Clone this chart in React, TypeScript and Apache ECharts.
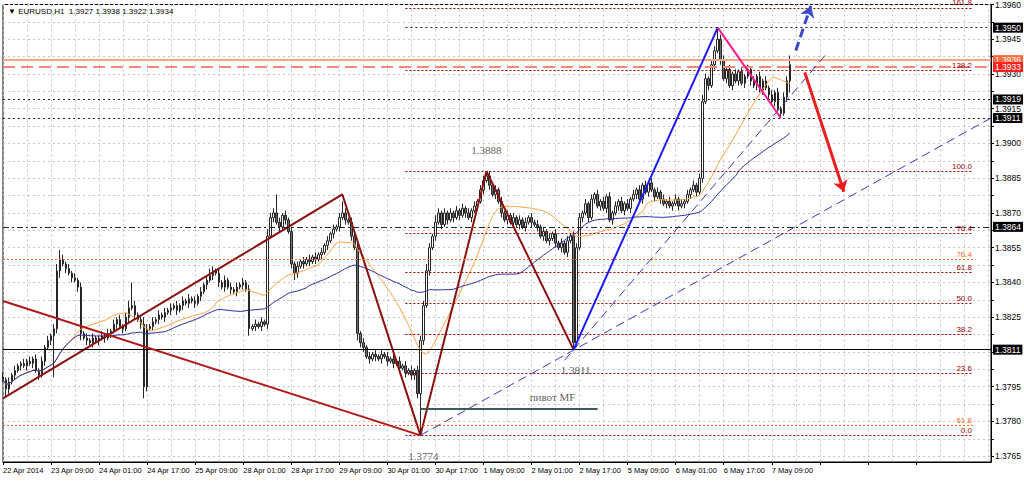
import React, { useEffect, useRef } from 'react';
import * as echarts from 'echarts';

// ---------- data (prices in pips relative to 1.3800) ----------
const BASE = 1.38;
const PIP = 0.0001;
const firstOpen = -1;

const closes = [
  -2, -6, -3, 0, 2, 4, 5, 4, 6, 5,
  7, 2, 0, 6, 12, 15, 17, 20, 45, 50,
  48, 46, 44, 42, 41, 38, 18, 16, 15, 14,
  16, 15, 16, 17, 16, 18, 19, 22, 24, 21,
  20, 25, 29, 30, 26, 24, 22, -5, 20, 21,
  23, 24, 26, 25, 27, 28, 29, 30, 28, 30,
  32, 31, 33, 32, 31, 34, 36, 39, 41, 43,
  45, 44, 40, 38, 41, 38, 37, 36, 38, 39,
  40, 37, 20, 21, 22, 21, 23, 22, 60, 68,
  70, 66, 64, 69, 67, 62, 48, 44, 47, 49,
  48, 50, 49, 51, 50, 52, 53, 56, 58, 61,
  63, 64, 68, 70, 67, 66, 60, 55, 18, 14,
  12, 8, 7, 9, 8, 7, 9, 8, 6, 7,
  5, 6, 3, 4, 1, 2, 0, 2, -8, 15,
  30, 45, 55, 60, 66, 70, 65, 70, 67, 70,
  68, 71, 69, 72, 70, 68, 71, 73, 75, 80,
  84, 86, 82, 78, 80, 75, 70, 67, 69, 66,
  68, 65, 67, 64, 66, 68, 66, 65, 64, 60,
  62, 58, 59, 61, 57, 55, 57, 53, 58, 60,
  14, 55, 68, 70, 74, 68, 76, 78, 73, 75,
  72, 77, 67, 70, 73, 75, 71, 74, 72, 76,
  78, 80, 76, 82, 79, 83, 80, 77, 79, 76,
  74, 75, 73, 74, 76, 73, 74, 75, 78, 80,
  82, 79, 85, 118, 128, 125, 134, 140, 145, 136,
  128, 132, 125, 130, 127, 131, 126, 129, 132, 127,
  125, 129, 123, 127, 124, 121, 118, 122, 115, 113,
  120, 127, 134,
];

const wickUp = [
  2, 1, 2, 1, 2, 1, 1, 2, 1, 2,
  1, 2, 1, 2, 1, 2, 1, 2, 3, 4,
  2, 1, 2, 1, 2, 1, 2, 1, 2, 1,
  2, 1, 1, 2, 1, 2, 1, 2, 1, 2,
  1, 2, 3, 10, 2, 1, 2, 3, 2, 1,
  2, 1, 2, 1, 2, 1, 2, 1, 2, 1,
  2, 1, 2, 1, 2, 1, 2, 1, 2, 3,
  2, 1, 2, 1, 2, 1, 2, 1, 2, 1,
  2, 1, 2, 1, 2, 1, 2, 1, 3, 2,
  2, 8, 2, 1, 2, 1, 2, 1, 2, 1,
  2, 1, 2, 1, 2, 1, 2, 1, 2, 1,
  2, 1, 2, 5, 2, 1, 2, 1, 2, 1,
  2, 1, 2, 1, 2, 1, 2, 1, 2, 1,
  2, 1, 2, 1, 2, 1, 2, 1, 2, 2,
  2, 3, 2, 1, 3, 2, 1, 2, 1, 2,
  1, 2, 1, 2, 1, 2, 1, 2, 1, 2,
  2, 2, 2, 1, 2, 1, 2, 1, 2, 1,
  2, 1, 2, 1, 2, 1, 2, 1, 2, 1,
  2, 1, 2, 1, 2, 1, 2, 1, 2, 1,
  2, 2, 2, 1, 2, 1, 2, 1, 2, 1,
  2, 1, 2, 1, 2, 1, 2, 1, 2, 1,
  2, 1, 2, 1, 2, 1, 2, 1, 2, 1,
  2, 1, 2, 1, 2, 1, 2, 1, 2, 1,
  2, 1, 2, 3, 2, 1, 2, 2, 5, 2,
  2, 1, 2, 1, 2, 1, 2, 1, 2, 1,
  2, 1, 2, 1, 2, 1, 2, 1, 2, 1,
  2, 2, 4,
];

const wickDn = [
  1, 3, 2, 1, 2, 1, 2, 1, 2, 1,
  2, 1, 2, 1, 2, 1, 2, 18, 2, 3,
  1, 2, 1, 2, 1, 2, 3, 1, 2, 1,
  2, 1, 2, 1, 2, 1, 2, 1, 2, 1,
  2, 1, 2, 1, 2, 1, 2, 5, 2, 1,
  2, 1, 2, 1, 2, 1, 2, 1, 2, 1,
  2, 1, 2, 1, 2, 1, 2, 1, 2, 1,
  2, 1, 2, 1, 2, 1, 2, 1, 2, 1,
  2, 1, 3, 1, 2, 1, 2, 1, 2, 1,
  2, 1, 2, 1, 2, 1, 2, 3, 2, 1,
  2, 1, 2, 1, 2, 1, 2, 1, 2, 1,
  2, 1, 2, 1, 2, 1, 2, 1, 3, 2,
  2, 1, 2, 1, 2, 1, 2, 1, 2, 1,
  2, 1, 2, 1, 2, 1, 2, 2, 2, 18,
  2, 1, 2, 1, 2, 1, 2, 1, 2, 1,
  2, 1, 2, 1, 2, 1, 2, 1, 2, 1,
  2, 1, 2, 1, 2, 1, 2, 1, 2, 1,
  2, 1, 2, 1, 2, 1, 2, 1, 2, 1,
  2, 1, 2, 1, 2, 1, 2, 1, 2, 1,
  3, 2, 1, 2, 1, 2, 1, 2, 1, 2,
  1, 2, 1, 2, 1, 2, 1, 2, 1, 2,
  1, 2, 1, 2, 1, 2, 1, 2, 1, 2,
  1, 2, 1, 2, 1, 2, 1, 2, 1, 2,
  1, 2, 1, 2, 1, 2, 1, 2, 1, 2,
  1, 2, 1, 2, 1, 2, 1, 2, 1, 2,
  1, 2, 1, 2, 1, 2, 1, 2, 1, 2,
  1, 2, 5,
];

const TOTAL_SLOTS = 330; // bars + empty right margin
const xTickLabels = [
  '22 Apr 2014', '23 Apr 09:00', '24 Apr 01:00', '24 Apr 17:00', '25 Apr 09:00',
  '28 Apr 01:00', '28 Apr 17:00', '29 Apr 09:00', '30 Apr 01:00', '30 Apr 17:00',
  '1 May 09:00', '2 May 01:00', '2 May 17:00', '5 May 09:00', '6 May 01:00',
  '6 May 17:00', '7 May 09:00',
];
const yLabelValues = [
  1.3765, 1.378, 1.3795, 1.3825, 1.384, 1.3855, 1.387, 1.3885,
  1.39, 1.3915, 1.393, 1.3945, 1.396,
];
const yGridValues = [
  1.3765, 1.37725, 1.378, 1.37875, 1.3795, 1.38025, 1.381, 1.38175, 1.3825,
  1.38325, 1.384, 1.38475, 1.3855, 1.38625, 1.387, 1.38775, 1.3885, 1.38925,
  1.39, 1.39075, 1.3915, 1.39225, 1.393, 1.39375, 1.3945, 1.39525, 1.396,
];

const header = '\u25BC EURUSD,H1  1.3927 1.3938 1.3922 1.3934';

// Fibonacci (dark red) from 1.3774 to 1.3888
const fibLevels = [0, 23.6, 38.2, 50, 61.8, 76.4, 100, 138.2, 161.8];
const fibLow = 1.3774;
const fibHigh = 1.3888;
const fibFrom = 134;
const fibTo = 323;
// second (orange) fibonacci levels
const orangeFibLabels = ['76.4', '61.8'];
const orangeFibPrices = [1.385, 1.37784];

// horizontal levels with axis boxes
const boxLevels = [1.395, 1.3919, 1.3911, 1.3864, 1.3811];
const boxLevelFrom = [134, 0, 0, 0, 0];
const boxLevelKinds = ['dot', 'dot', 'dot', 'dashdot', 'solid'];
const bidLevel = 1.3933;
const askLevel = 1.3936;

// drawn objects [barIndex, price]
const zigzag = [[0, 1.379], [113, 1.3878], [139, 1.3774], [161, 1.3888], [190, 1.3811]];
const blueLeg = [[190, 1.3811], [238, 1.395]];
const pinkLeg = [[238, 1.395], [259, 1.3911]];
const fallingLine = [[0, 1.3832], [139, 1.3774]];
const redTrend = [[77, 1.3759], [329, 1.382]];
const blueDashA = [[139, 1.3774], [329, 1.3911]];
const blueDashB = [[187, 1.38064], [274, 1.39384]];
const pivotLine = [[139, 1.37857], [198, 1.37857]];
const blueArrow = [[264, 1.39401], [269, 1.39594]];
const redArrow = [[267, 1.39307], [280, 1.38792]];

const notes = [
  { text: '1.3888', at: [161, 1.3888], offset: [0, -21] },
  { text: '1.3811', at: [190, 1.3811], offset: [2, 20] },
  { text: '1.3774', at: [139, 1.3774], offset: [3, 21] },
  { text: '\u043F\u0438\u0432\u043E\u0442 MF', at: [183, 1.37857], offset: [0, -11] },
];

const FAST = 24;
const SLOW = 55;

// ---------- helpers ----------
const px = (p: number) => +(BASE + p * PIP).toFixed(5);

function buildCandles() {
  const out: number[][] = [];
  let prev = firstOpen;
  for (let i = 0; i < closes.length; i++) {
    const o = prev;
    const c = closes[i];
    const h = Math.max(o, c) + wickUp[i];
    const l = Math.min(o, c) - wickDn[i];
    out.push([px(o), px(c), px(l), px(h)]);
    prev = c;
  }
  return out;
}

function sma(period: number) {
  const out: number[] = [];
  for (let i = 0; i < closes.length; i++) {
    const s = Math.max(0, i - period + 1);
    let sum = 0;
    for (let j = s; j <= i; j++) sum += closes[j];
    out.push(px(sum / (i - s + 1)));
  }
  return out;
}

const FONT = "'Liberation Sans', 'DejaVu Sans', sans-serif";

const seg = (pts: number[][], color: string, width: number, type: any = 'solid', symbols: string[] = ['none', 'none']) => ({
  symbol: symbols,
  data: [[
    { coord: pts[0], lineStyle: { color, width, type }, label: { show: false } },
    { coord: pts[1] },
  ]],
});

export default function App() {
  const ref = useRef<HTMLDivElement>(null);
  useEffect(() => {
    if (!ref.current) return;
    const chart = echarts.init(ref.current, undefined, { renderer: 'svg' });
    const candles = buildCandles();
    const cats = Array.from({ length: TOTAL_SLOTS }, (_, i) => String(i));

    const dotted = [2, 2];
    const levelData: any[] = [];
    orangeFibPrices.forEach((p, k) => {
      levelData.push([
        {
          coord: [0, p],
          lineStyle: { color: '#ff6a1a', width: 1, type: dotted },
          label: { show: true, position: 'insideEndTop', formatter: orangeFibLabels[k], color: '#ff6a1a', fontSize: 8, fontFamily: FONT, distance: 1 },
        },
        { coord: [fibTo, p] },
      ]);
    });
    fibLevels.forEach((lv) => {
      const p = +(fibLow + (fibHigh - fibLow) * lv / 100).toFixed(5);
      levelData.push([
        {
          coord: [fibFrom, p],
          lineStyle: { color: '#a00000', width: 1, type: dotted },
          label: { show: true, position: 'insideEndTop', formatter: lv.toFixed(1), color: '#a00000', fontSize: 8, fontFamily: FONT, distance: 1 },
        },
        { coord: [fibTo, p] },
      ]);
    });
    const boxLabel = (p: number, bg: string) => ({
      show: true, position: 'end', distance: 2, formatter: p.toFixed(4),
      color: '#fff', backgroundColor: bg, padding: [1, 2, 0, 2], fontSize: 8.5, fontFamily: FONT,
    });
    boxLevels.forEach((p, k) => {
      const kind = boxLevelKinds[k];
      const ls = {
        color: kind === 'solid' ? '#000' : '#222',
        width: 1,
        type: kind === 'solid' ? 'solid' : kind === 'dashdot' ? [6, 3, 2, 3] : [2, 3],
      };
      levelData.push([
        { coord: [boxLevelFrom[k], p], lineStyle: ls, label: boxLabel(p, '#000') },
        { coord: [TOTAL_SLOTS - 1, p] },
      ]);
    });
    levelData.push([
      { coord: [0, askLevel], lineStyle: { color: '#f6a58a', width: 2, type: 'solid' }, label: boxLabel(askLevel, '#ff6a3a') },
      { coord: [TOTAL_SLOTS - 1, askLevel] },
    ]);
    levelData.push([
      { coord: [0, bidLevel], lineStyle: { color: '#f2877a', width: 2, type: [12, 6] }, label: boxLabel(bidLevel, '#ff1f1f') },
      { coord: [TOTAL_SLOTS - 1, bidLevel] },
    ]);

    const drawSeries = (name: string, ml: any, z: number) => ({
      name, type: 'line', data: [], z, silent: true,
      markLine: { silent: true, animation: false, ...ml },
    });

    chart.setOption({
      animation: false,
      backgroundColor: '#ffffff',
      title: {
        text: header, left: 3, top: 2,
        textStyle: { fontSize: 8, fontWeight: 'normal', color: '#000', fontFamily: FONT },
      },
      grid: { left: 2, right: 31, top: 2, bottom: 20, show: true, borderColor: '#000', borderWidth: 1 },
      xAxis: {
        type: 'category', data: cats, boundaryGap: false,
        axisLine: { lineStyle: { color: '#000' } },
        axisTick: { interval: 15, length: 3, lineStyle: { color: '#000' } },
        axisLabel: {
          interval: 15, align: 'left', margin: 4, fontSize: 7.5, color: '#000', fontFamily: FONT,
          showMinLabel: true, showMaxLabel: false, hideOverlap: false,
          formatter: (_v: string, idx: number) => (idx % 16 === 0 ? xTickLabels[idx / 16] ?? '' : ''),
        },
        splitLine: { show: true, interval: 7, lineStyle: { color: '#c4c4c4', type: [2, 3], width: 1 } },
      },
      yAxis: {
        type: 'value', position: 'right', min: 1.37625, max: 1.396,
        axisLine: { show: true, lineStyle: { color: '#000' } },
        axisTick: { show: true, length: 3, customValues: yGridValues, lineStyle: { color: '#000' } },
        axisLabel: {
          customValues: yLabelValues, margin: 4, fontSize: 8.5, color: '#000', fontFamily: FONT,
          formatter: (v: number) => v.toFixed(4),
        },
        splitLine: { show: true, lineStyle: { color: '#c4c4c4', type: [2, 3], width: 1 } },
      },
      series: [
        drawSeries('levels', { symbol: ['none', 'none'], data: levelData }, 1),
        {
          name: 'EURUSD', type: 'candlestick', data: candles, z: 2, barWidth: 2,
          itemStyle: { color: '#ffffff', color0: '#6e6e6e', borderColor: '#262626', borderColor0: '#262626', borderWidth: 1 },
        },
        { name: 'maFast', type: 'line', data: sma(FAST), showSymbol: false, z: 3, lineStyle: { color: '#ffa040', width: 1 } },
        { name: 'maSlow', type: 'line', data: sma(SLOW), showSymbol: false, z: 3, lineStyle: { color: '#2a2aa0', width: 1 } },
        {
          name: 'zigzag', type: 'line', data: zigzag, showSymbol: false, z: 4,
          lineStyle: { color: '#8b1010', width: 2 },
        },
        drawSeries('fall', seg(fallingLine, '#b01818', 2), 4),
        drawSeries('redTrend', seg(redTrend, '#d04848', 1.2), 4),
        drawSeries('blueDashA', seg(blueDashA, '#3a3ab8', 1, [9, 5]), 4),
        drawSeries('blueDashB', seg(blueDashB, '#3a3ab8', 1, [9, 5]), 4),
        drawSeries('blueLeg', seg(blueLeg, '#1a1aff', 2), 5),
        drawSeries('pinkLeg', seg(pinkLeg, '#ff1a8c', 2), 5),
        drawSeries('pivot', seg(pivotLine, '#3c5a5a', 2), 5),
        drawSeries('blueArrow', { ...seg(blueArrow, '#3a4acc', 3, [9, 5], ['none', 'arrow']), symbolSize: 11 }, 6),
        drawSeries('redArrow', { ...seg(redArrow, '#ee1c1c', 3, 'solid', ['none', 'arrow']), symbolSize: 11 }, 6),
        {
          name: 'notes', type: 'scatter', z: 7, symbolSize: 0, silent: true,
          data: notes.map((n) => ({
            value: n.at,
            label: {
              show: true, position: 'inside', offset: n.offset, formatter: n.text,
              color: '#333', fontSize: 11, fontFamily: "'Liberation Serif', serif",
            },
          })),
        },
      ],
    });
    return () => chart.dispose();
  }, []);
  return <div ref={ref} style={{ position: 'absolute', left: 0, top: 0, width: 1024, height: 482 }} />;
}
